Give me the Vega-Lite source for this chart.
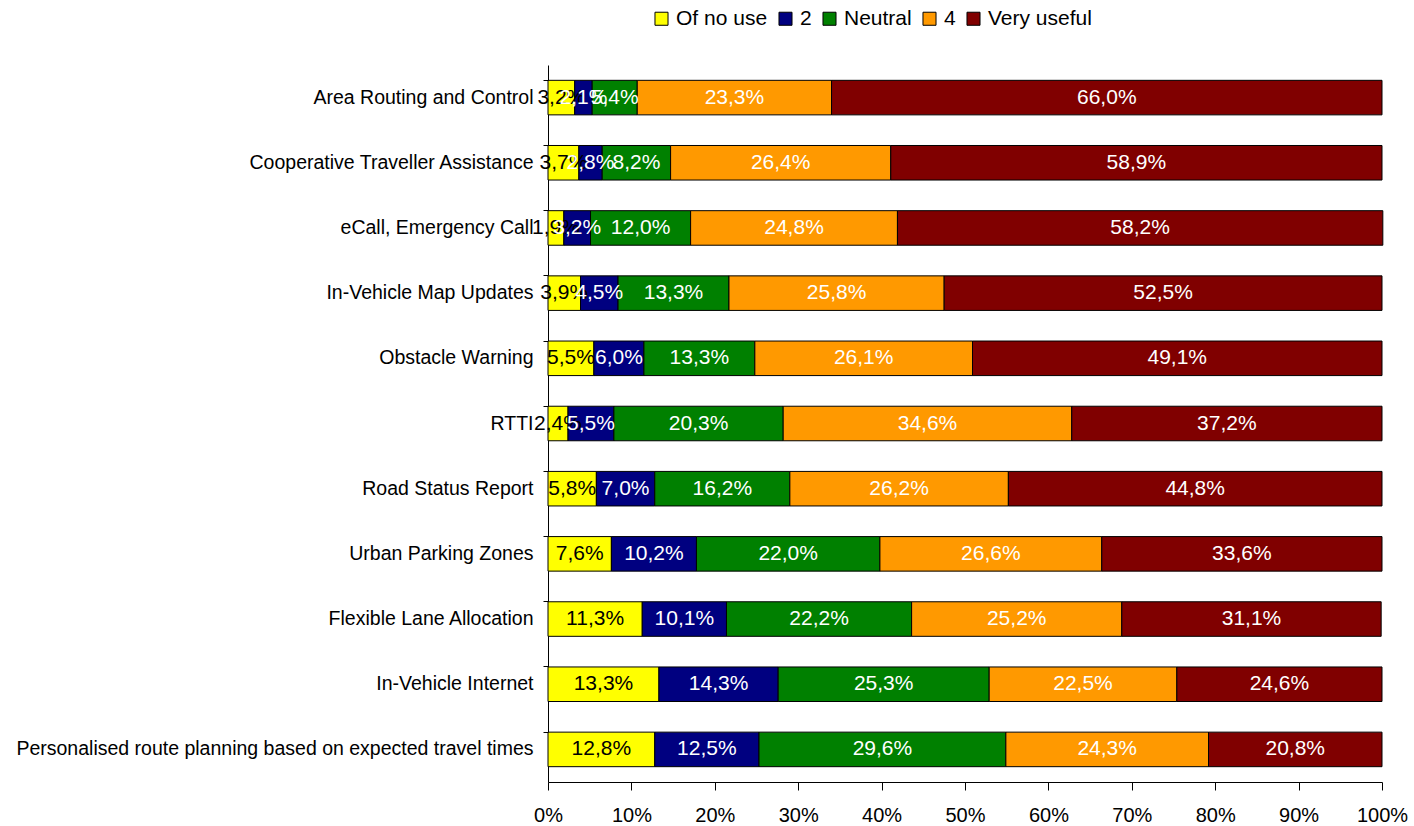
{
  "$schema": "https://vega.github.io/schema/vega-lite/v6.json",
  "autosize": "none",
  "width": 834,
  "height": 717,
  "padding": {"left": 548, "top": 65, "right": 32, "bottom": 44},
  "background": "white",
  "config": {
    "font": "Liberation Sans",
    "view": {"stroke": null},
    "axis": {"grid": false, "domainColor": "black", "tickColor": "black", "labelColor": "black", "titleColor": "black"}
  },
  "data": {"values": [
    {"item": "Area Routing and Control", "cat": "Of no use", "k": 0, "v": 3.2},
    {"item": "Area Routing and Control", "cat": "2", "k": 1, "v": 2.1},
    {"item": "Area Routing and Control", "cat": "Neutral", "k": 2, "v": 5.4},
    {"item": "Area Routing and Control", "cat": "4", "k": 3, "v": 23.3},
    {"item": "Area Routing and Control", "cat": "Very useful", "k": 4, "v": 66.0},
    {"item": "Cooperative Traveller Assistance", "cat": "Of no use", "k": 0, "v": 3.7},
    {"item": "Cooperative Traveller Assistance", "cat": "2", "k": 1, "v": 2.8},
    {"item": "Cooperative Traveller Assistance", "cat": "Neutral", "k": 2, "v": 8.2},
    {"item": "Cooperative Traveller Assistance", "cat": "4", "k": 3, "v": 26.4},
    {"item": "Cooperative Traveller Assistance", "cat": "Very useful", "k": 4, "v": 58.9},
    {"item": "eCall, Emergency Call", "cat": "Of no use", "k": 0, "v": 1.9},
    {"item": "eCall, Emergency Call", "cat": "2", "k": 1, "v": 3.2},
    {"item": "eCall, Emergency Call", "cat": "Neutral", "k": 2, "v": 12.0},
    {"item": "eCall, Emergency Call", "cat": "4", "k": 3, "v": 24.8},
    {"item": "eCall, Emergency Call", "cat": "Very useful", "k": 4, "v": 58.2},
    {"item": "In-Vehicle Map Updates", "cat": "Of no use", "k": 0, "v": 3.9},
    {"item": "In-Vehicle Map Updates", "cat": "2", "k": 1, "v": 4.5},
    {"item": "In-Vehicle Map Updates", "cat": "Neutral", "k": 2, "v": 13.3},
    {"item": "In-Vehicle Map Updates", "cat": "4", "k": 3, "v": 25.8},
    {"item": "In-Vehicle Map Updates", "cat": "Very useful", "k": 4, "v": 52.5},
    {"item": "Obstacle Warning", "cat": "Of no use", "k": 0, "v": 5.5},
    {"item": "Obstacle Warning", "cat": "2", "k": 1, "v": 6.0},
    {"item": "Obstacle Warning", "cat": "Neutral", "k": 2, "v": 13.3},
    {"item": "Obstacle Warning", "cat": "4", "k": 3, "v": 26.1},
    {"item": "Obstacle Warning", "cat": "Very useful", "k": 4, "v": 49.1},
    {"item": "RTTI", "cat": "Of no use", "k": 0, "v": 2.4},
    {"item": "RTTI", "cat": "2", "k": 1, "v": 5.5},
    {"item": "RTTI", "cat": "Neutral", "k": 2, "v": 20.3},
    {"item": "RTTI", "cat": "4", "k": 3, "v": 34.6},
    {"item": "RTTI", "cat": "Very useful", "k": 4, "v": 37.2},
    {"item": "Road Status Report", "cat": "Of no use", "k": 0, "v": 5.8},
    {"item": "Road Status Report", "cat": "2", "k": 1, "v": 7.0},
    {"item": "Road Status Report", "cat": "Neutral", "k": 2, "v": 16.2},
    {"item": "Road Status Report", "cat": "4", "k": 3, "v": 26.2},
    {"item": "Road Status Report", "cat": "Very useful", "k": 4, "v": 44.8},
    {"item": "Urban Parking Zones", "cat": "Of no use", "k": 0, "v": 7.6},
    {"item": "Urban Parking Zones", "cat": "2", "k": 1, "v": 10.2},
    {"item": "Urban Parking Zones", "cat": "Neutral", "k": 2, "v": 22.0},
    {"item": "Urban Parking Zones", "cat": "4", "k": 3, "v": 26.6},
    {"item": "Urban Parking Zones", "cat": "Very useful", "k": 4, "v": 33.6},
    {"item": "Flexible Lane Allocation", "cat": "Of no use", "k": 0, "v": 11.3},
    {"item": "Flexible Lane Allocation", "cat": "2", "k": 1, "v": 10.1},
    {"item": "Flexible Lane Allocation", "cat": "Neutral", "k": 2, "v": 22.2},
    {"item": "Flexible Lane Allocation", "cat": "4", "k": 3, "v": 25.2},
    {"item": "Flexible Lane Allocation", "cat": "Very useful", "k": 4, "v": 31.1},
    {"item": "In-Vehicle Internet", "cat": "Of no use", "k": 0, "v": 13.3},
    {"item": "In-Vehicle Internet", "cat": "2", "k": 1, "v": 14.3},
    {"item": "In-Vehicle Internet", "cat": "Neutral", "k": 2, "v": 25.3},
    {"item": "In-Vehicle Internet", "cat": "4", "k": 3, "v": 22.5},
    {"item": "In-Vehicle Internet", "cat": "Very useful", "k": 4, "v": 24.6},
    {"item": "Personalised route planning based on expected travel times", "cat": "Of no use", "k": 0, "v": 12.8},
    {"item": "Personalised route planning based on expected travel times", "cat": "2", "k": 1, "v": 12.5},
    {"item": "Personalised route planning based on expected travel times", "cat": "Neutral", "k": 2, "v": 29.6},
    {"item": "Personalised route planning based on expected travel times", "cat": "4", "k": 3, "v": 24.3},
    {"item": "Personalised route planning based on expected travel times", "cat": "Very useful", "k": 4, "v": 20.8}
  ]},
  "transform": [
    {"stack": "v", "groupby": ["item"], "sort": [{"field": "k", "order": "ascending"}], "as": ["s0", "s1"], "offset": "zero"},
    {"calculate": "(datum.s0 + datum.s1) / 2", "as": "mid"},
    {"calculate": "replace(format(datum.v, '.1f'), '.', ',') + '%'", "as": "lbl"}
  ],
  "encoding": {
    "y": {
      "field": "item", "type": "nominal", "sort": null, "title": null,
      "scale": {"paddingInner": 0.47, "paddingOuter": 0.235},
      "axis": {"labelFontSize": 19.5, "labelPadding": 10, "tickSize": 5, "bandPosition": 0, "domainWidth": 1, "labelLimit": 0}
    }
  },
  "layer": [
    {
      "mark": {"type": "bar", "stroke": "black", "strokeWidth": 1},
      "encoding": {
        "x": {"field": "s0", "type": "quantitative", "title": null,
          "scale": {"domain": [0, 100], "nice": false},
          "axis": {"values": [0, 10, 20, 30, 40, 50, 60, 70, 80, 90, 100], "labelExpr": "datum.value + '%'", "labelFontSize": 20, "tickSize": 8, "labelPadding": 15, "labelFlush": false}},
        "x2": {"field": "s1"},
        "color": {"field": "cat", "type": "nominal",
          "scale": {"domain": ["Of no use", "2", "Neutral", "4", "Very useful"], "range": ["#FFFF00", "#000080", "#008000", "#FF9900", "#800000"]},
          "legend": {"title": null, "orient": "none", "direction": "horizontal", "legendX": 103, "legendY": -57,
            "symbolType": "square", "symbolSize": 170, "symbolStrokeColor": "black", "symbolStrokeWidth": 1,
            "labelFontSize": 21, "labelColor": "black", "columnPadding": 7, "labelOffset": 4}}
      }
    },
    {
      "mark": {"type": "text", "fontSize": 21, "align": "center", "baseline": "middle"},
      "encoding": {
        "x": {"field": "mid", "type": "quantitative"},
        "text": {"field": "lbl"},
        "color": {"condition": {"test": "datum.k === 0", "value": "black"}, "value": "white"}
      }
    }
  ]
}
